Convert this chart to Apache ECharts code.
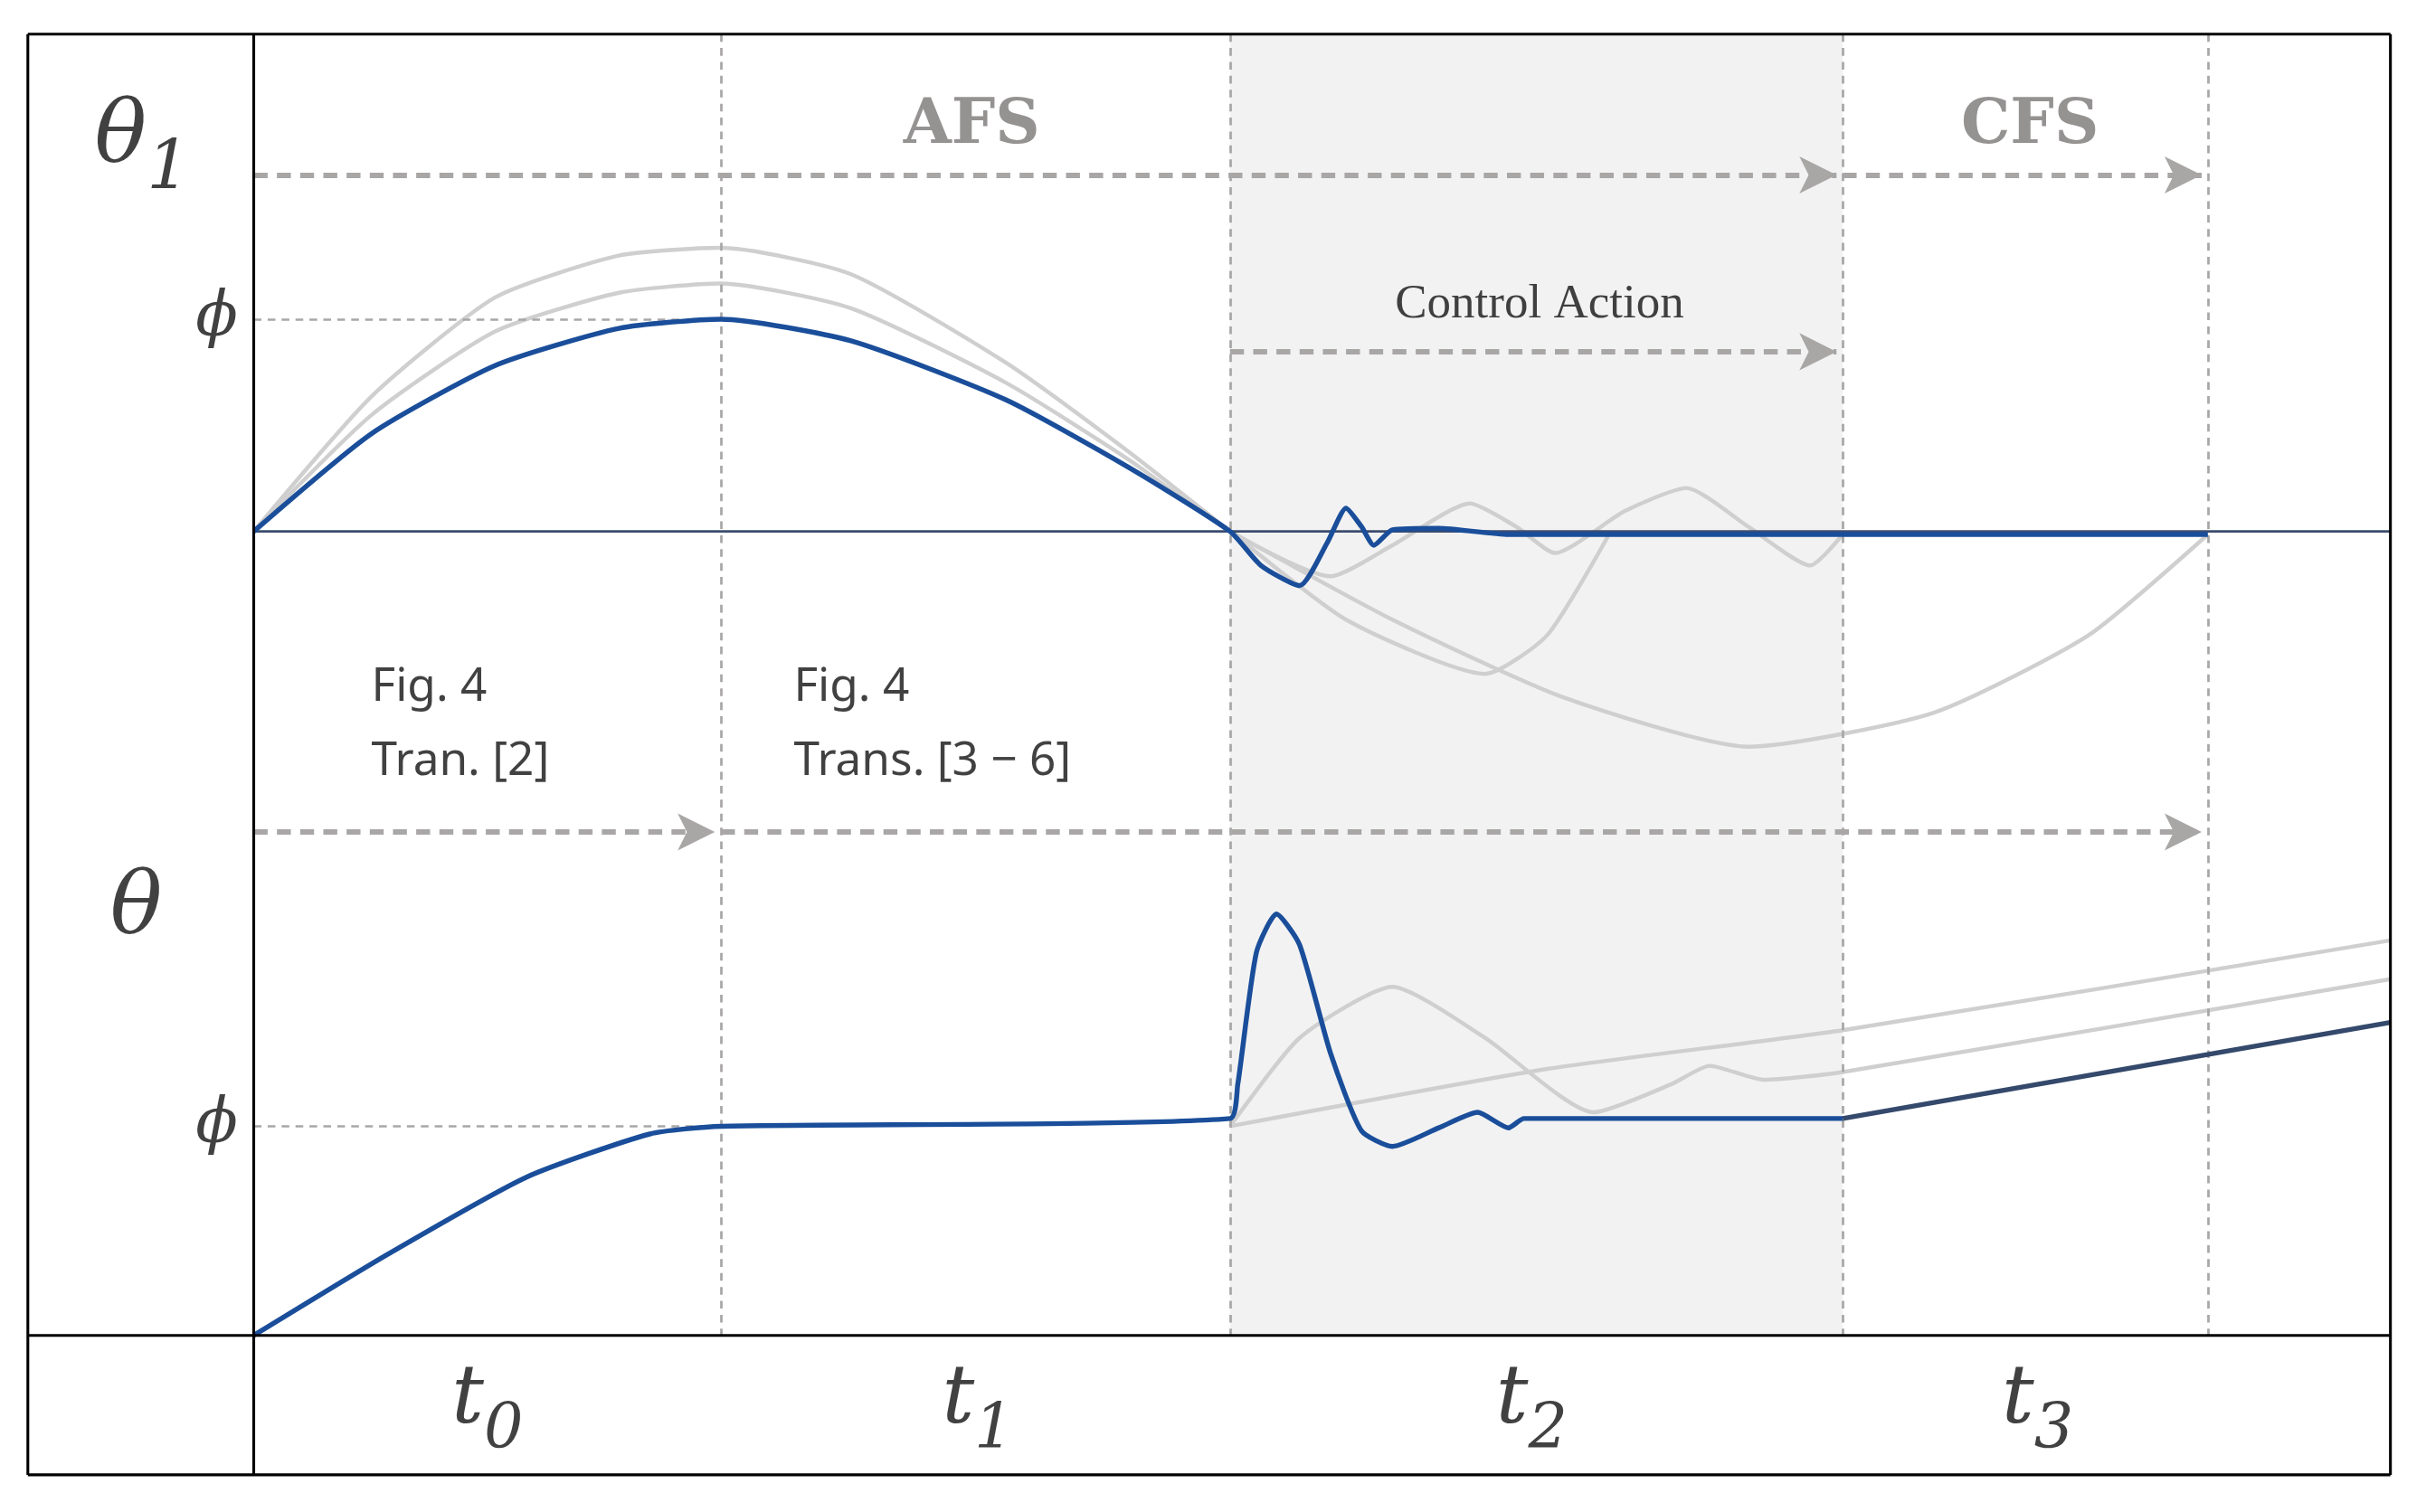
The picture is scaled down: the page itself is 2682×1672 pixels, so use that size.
<!DOCTYPE html>
<html>
<head>
<meta charset="utf-8">
<script src="https://cdn.jsdelivr.net/npm/echarts@6/dist/echarts.min.js"></script>
<style>html,body{margin:0;padding:0;background:#fff}#main{width:2682px;height:1672px}</style>
</head>
<body>
<div id="main"></div>
<script>
// 数据 (figure units: x 0..1568, y 0..976 downward)
var phaseX = [164, 466, 795, 1191, 1427];
var plotRight = 1545, plotTop = 22, plotBottom = 862, boxLeft = 18, boxBottom = 952;
var zero1 = 343, phi1 = 206, phi2 = 727;

var blueTop = [[164,343],[240,280],[320,236],[400,212],[466,206],[550,220],[650,258],[730,302],[795,343],[815,365],[840,378],[858,350],[870,328],[880,340],[888,352],[900,342],[930,341],[975,345],[1427,345]];
var grayTopA = [[164,343],[240,256],[320,192],[400,165],[466,160],[550,177],[650,234],[730,292],[795,343],[870,400],[960,435],[1000,410],[1040,345]];
var grayTopB = [[164,343],[240,268],[320,214],[400,189],[466,183],[550,199],[650,247],[730,297],[795,343],[860,372],[900,352],[950,325],[980,340],[1005,357],[1050,330],[1090,315],[1130,340],[1170,365],[1191,345]];
var grayTopC = [[795,343],[900,400],[1010,450],[1130,482],[1250,460],[1350,410],[1427,345]];
var blueBottom = [[164,862],[250,810],[340,760],[420,732],[466,727],[795,722],[800,700],[812,615],[825,590],[840,610],[860,680],[880,730],[900,740],[930,728],[955,718],[975,728],[985,722],[1191,722]];
var darkBottom = [[1191,722],[1545,660]];
var grayBottomA = [[795,727],[1000,690],[1191,665],[1545,607]];
var grayBottomB = [[795,727],[840,670],[900,637],[960,670],[1030,718],[1080,700],[1105,688],[1140,697],[1191,692],[1545,632]];

var textItems = [
  {x:628, y:82, t:'AFS', s:'afs'},
  {x:1312, y:82, t:'CFS', s:'afs'},
  {x:995, y:197, t:'Control Action', s:'ca'},
  {x:240, y:468, t:'Fig. 4\nTran. [2]', s:'fig'},
  {x:513, y:468, t:'Fig. 4\nTrans. [3 − 6]', s:'fig'},
  {x:140, y:206, t:'ϕ', s:'phi'},
  {x:140, y:727, t:'ϕ', s:'phi'},
  {x:88, y:588, t:'θ', s:'th'},
  {x:92, y:90, t:'{a|θ}{b|1}', s:'th'},
  {x:315, y:905, t:'{a|t}{c|0}', s:'tl'},
  {x:632, y:905, t:'{a|t}{c|1}', s:'tl'},
  {x:990, y:905, t:'{a|t}{c|2}', s:'tl'},
  {x:1317, y:905, t:'{a|t}{c|3}', s:'tl'}
];

var chart = echarts.init(document.getElementById('main'));
var K = 2682 / 1568;
var dashGray = {color:'#a9a6a6', type:[9*K,6*K], width:3.5*K};
var thinDash = {color:'#a9a6a6', type:[5*K,4*K], width:1.6*K};
function line(data, color, w, z){
  return {type:'line', data:data, smooth:0.2, symbol:'none', z:z||3,
    lineStyle:{color:color, width:w*K}, silent:true};
}
var styles = {
  afs:{fontFamily:'DejaVu Serif', fontWeight:'bold', fontSize:40*K, color:'#7a7777'},
  ca:{fontFamily:'Liberation Serif', fontSize:31*K, color:'#111'},
  fig:{fontFamily:'Noto Sans', fontSize:30*K, color:'#111', lineHeight:48*K, align:'left'},
  phi:{fontFamily:'DejaVu Serif', fontStyle:'italic', fontSize:40*K, color:'#111'},
  th:{fontFamily:'DejaVu Serif', fontStyle:'italic', fontSize:56*K, color:'#111',
      rich:{a:{fontFamily:'DejaVu Serif', fontStyle:'italic', fontSize:56*K, color:'#111'}, b:{fontFamily:'DejaVu Serif', fontSize:44*K, color:'#111', padding:[40*K,0,0,0]}}},
  tl:{rich:{a:{fontFamily:'DejaVu Serif', fontStyle:'italic', fontSize:52*K, color:'#111'}, c:{fontFamily:'DejaVu Serif', fontStyle:'italic', fontSize:40*K, color:'#111', padding:[38*K,0,0,0]}}}
};

var mark = [];
phaseX.slice(1).forEach(function(x){ mark.push([{coord:[x,plotTop],lineStyle:thinDash},{coord:[x,plotBottom]}]); });
mark.push([{coord:[phaseX[0],phi1],lineStyle:thinDash},{coord:[phaseX[1],phi1]}]);
mark.push([{coord:[phaseX[0],phi2],lineStyle:thinDash},{coord:[phaseX[1],phi2]}]);
var arrows = [[164,1191,113],[1191,1427,113],[795,1191,227],[164,466,537],[466,1427,537]];
arrows.forEach(function(a){ mark.push([{coord:[a[0],a[2]],lineStyle:dashGray,symbol:'none'},{coord:[a[1]-4,a[2]],symbol:'arrow',symbolSize:[18*K,24*K]}]); });

var frame = [
  [[boxLeft,plotTop],[plotRight,plotTop]],[[boxLeft,boxBottom],[plotRight,boxBottom]],
  [[boxLeft,plotTop],[boxLeft,boxBottom]],[[plotRight,plotTop],[plotRight,boxBottom]],
  [[phaseX[0],plotTop],[phaseX[0],boxBottom]],[[boxLeft,plotBottom],[plotRight,plotBottom]]
];

var series = [
  {type:'line', data:[], markArea:{silent:true, itemStyle:{color:'#f2f2f2'}, data:[[{coord:[phaseX[2],plotTop]},{coord:[phaseX[3],plotBottom]}]]},
   markLine:{silent:true, symbol:'none', label:{show:false}, data:mark}, z:1},
  line(grayTopA,'#cfcfcf',2.6), line(grayTopB,'#cfcfcf',2.6), line(grayTopC,'#cfcfcf',2.6),
  line(grayBottomA,'#cfcfcf',2.6), line(grayBottomB,'#cfcfcf',2.6),
  {type:'line', data:[[phaseX[0],zero1],[plotRight,zero1]], symbol:'none', lineStyle:{color:'#3c4d6e', width:1.6*K}, z:4},
  line(blueTop,'#1a4e9a',3.2,5), line(blueBottom,'#1a4e9a',3.2,5), line(darkBottom,'#34496b',3.2,5)
];
frame.forEach(function(f){ series.push({type:'line', data:f, symbol:'none', lineStyle:{color:'#000', width:1.8*K}, z:6}); });
series.push({type:'scatter', symbolSize:0, z:7, silent:true, data:textItems.map(function(d){
  var st = Object.assign({show:true, position:'inside', align:'center', verticalAlign:'middle', formatter:d.t}, styles[d.s]);
  if (d.s==='fig') { st.position='right'; st.offset=[-5,0]; }
  return {value:[d.x,d.y], label:st};
})});

chart.setOption({
  animation:false,
  grid:{left:0,right:0,top:0,bottom:0},
  xAxis:{type:'value', min:0, max:1568, show:false},
  yAxis:{type:'value', min:0, max:976, inverse:true, show:false},
  series:series
});
</script>
</body>
</html>
